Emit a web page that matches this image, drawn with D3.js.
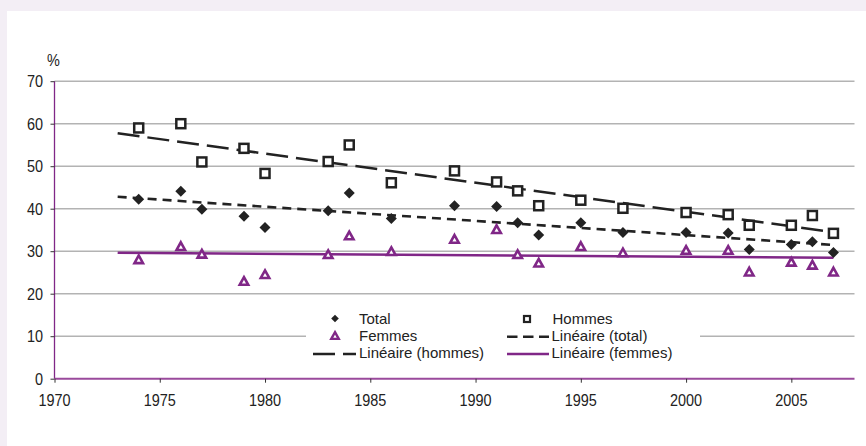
<!DOCTYPE html>
<html><head><meta charset="utf-8">
<script src="https://cdn.jsdelivr.net/npm/d3@7"></script>
<style>body{margin:0;background:#f3eef5;}svg{display:block;}</style>
</head><body>
<script>
const years = [1974,1976,1977,1979,1980,1983,1984,1986,1989,1991,1992,1993,1995,1997,2000,2002,2003,2005,2006,2007];
const total = [42.2,44.1,39.9,38.2,35.6,39.5,43.7,37.7,40.7,40.5,36.7,33.8,36.7,34.4,34.4,34.3,30.4,31.6,32.2,29.7];
const hommes = [59,60,51,54.2,48.3,51.1,55,46.1,48.9,46.3,44.2,40.7,42,40.1,39.1,38.6,36.1,36.1,38.4,34.2];
const femmes = [28.1,31.2,29.4,23.0,24.6,29.3,33.7,30.0,32.9,35.2,29.3,27.3,31.2,29.7,30.3,30.3,25.2,27.5,26.8,25.2];
const xTicks = [1970,1975,1980,1985,1990,1995,2000,2005];
const yTicks = [0,10,20,30,40,50,60,70];
const trendRange = [1973,2007];
const legendLabels = ["Total","Hommes","Femmes","Linéaire (total)","Linéaire (hommes)","Linéaire (femmes)"];

const W=866,H=446;
const purple="#802787", dark="#222";
const svg=d3.select("body").append("svg").attr("width",W).attr("height",H);
svg.append("rect").attr("x",7).attr("y",11).attr("width",W-7).attr("height",H-11).attr("fill","#fff");

const x=d3.scaleLinear().domain([1970,2008]).range([54.5,854.5]);
const y=d3.scaleLinear().domain([0,70]).range([378.7,81.2]);
const font="'Liberation Sans', Arial, sans-serif";

function txt(g,s,px,py,anchor,size,sx){
  return g.append("text").attr("transform",`translate(${px},${py}) scale(${sx},1)`)
    .attr("text-anchor",anchor).attr("font-family",font).attr("font-size",size).attr("fill",dark).text(s);
}

// gridlines
svg.append("g").selectAll("line").data(yTicks.filter(d=>d>0)).join("line")
  .attr("x1",x(1970)).attr("x2",x(2008)).attr("y1",d=>y(d)).attr("y2",d=>y(d))
  .attr("stroke","#b3b3b3").attr("stroke-width",1.5);

// axes
const yAxis=svg.append("g").attr("transform",`translate(${x(1970)},0)`)
  .call(d3.axisLeft(y).tickValues(yTicks).tickSize(4).tickFormat(""));
yAxis.select(".domain").attr("stroke",purple).attr("stroke-width",1.3).attr("d",`M0,${y(70)}V${y(0)}`);
yAxis.selectAll(".tick line").attr("stroke","#333");
const xAxis=svg.append("g").attr("transform",`translate(0,${y(0)})`)
  .call(d3.axisBottom(x).tickValues(xTicks).tickSize(4).tickFormat(""));
xAxis.select(".domain").attr("stroke","#9a4a9c").attr("stroke-width",2).attr("d",`M${x(1970)},0H${x(2008)}`);
xAxis.selectAll(".tick line").attr("stroke","#333");

xTicks.forEach(t=>txt(svg,String(t),x(t),406,"middle",17,0.85));
yTicks.forEach(t=>txt(svg,String(t),43,y(t)+6,"end",17,0.85));
txt(svg,"%",53.5,66,"middle",17,0.85);

// regression (linear trend computed from the series)
function reg(xs,ys){
  const mx=d3.mean(xs),my=d3.mean(ys);
  const sxy=d3.sum(xs,(v,i)=>(v-mx)*(ys[i]-my)), sxx=d3.sum(xs,v=>(v-mx)*(v-mx));
  const b=sxy/sxx; return t=>my+b*(t-mx);
}
function trend(vals,color,w,dash){
  const f=reg(years,vals);
  svg.append("line").attr("x1",x(trendRange[0])).attr("y1",y(f(trendRange[0])))
    .attr("x2",x(trendRange[1])).attr("y2",y(f(trendRange[1])))
    .attr("stroke",color).attr("stroke-width",w).attr("stroke-dasharray",dash);
}
trend(femmes,purple,2.6,null);
trend(total,dark,2.6,"9,6");
trend(hommes,dark,2.5,"22,8");

// markers
function diamond(g,cx,cy,r){g.append("path").attr("d",`M${cx},${cy-r}L${cx+r},${cy}L${cx},${cy+r}L${cx-r},${cy}Z`).attr("fill",dark);}
function square(g,cx,cy,s,sw){g.append("rect").attr("x",cx-s/2).attr("y",cy-s/2).attr("width",s).attr("height",s).attr("fill","#fff").attr("stroke",dark).attr("stroke-width",sw);}
function tri(g,cx,cy,s,sw){const h=s*0.9;g.append("path").attr("d",`M${cx},${cy-h/2}L${cx+s/2},${cy+h/2}L${cx-s/2},${cy+h/2}Z`).attr("fill","#fff").attr("stroke",purple).attr("stroke-width",sw).attr("stroke-linejoin","miter");}

const gm=svg.append("g");
years.forEach((yr,i)=>{
  tri(gm,x(yr),y(femmes[i]),8.5,2.6);
  square(gm,x(yr),y(hommes[i]),9,2.5);
  diamond(gm,x(yr),y(total[i]),5.5);
});

// legend
const lg=svg.append("g");
lg.append("rect").attr("x",306).attr("y",300).attr("width",394).attr("height",72).attr("fill","#fff");
const lfs=15, lsx=1;
diamond(lg,335,318.5,3.8);
txt(lg,legendLabels[0],359,323.5,"start",lfs,lsx);
square(lg,527,319,6,2.2);
txt(lg,legendLabels[1],552.5,323.5,"start",lfs,lsx);
tri(lg,335,335.5,7.5,2.4);
txt(lg,legendLabels[2],359,340.5,"start",lfs,lsx);
lg.append("line").attr("x1",507).attr("x2",549).attr("y1",336.7).attr("y2",336.7).attr("stroke",dark).attr("stroke-width",2.4).attr("stroke-dasharray","10.5,5.5");
txt(lg,legendLabels[3],551.5,340.5,"start",lfs,lsx);
lg.append("line").attr("x1",313).attr("x2",356).attr("y1",354).attr("y2",354).attr("stroke",dark).attr("stroke-width",2.4).attr("stroke-dasharray","22,8");
txt(lg,legendLabels[4],359,357.5,"start",lfs,lsx);
lg.append("line").attr("x1",507).attr("x2",549).attr("y1",354).attr("y2",354).attr("stroke",purple).attr("stroke-width",2.6);
txt(lg,legendLabels[5],551.5,357.5,"start",lfs,lsx);
</script>
</body></html>
